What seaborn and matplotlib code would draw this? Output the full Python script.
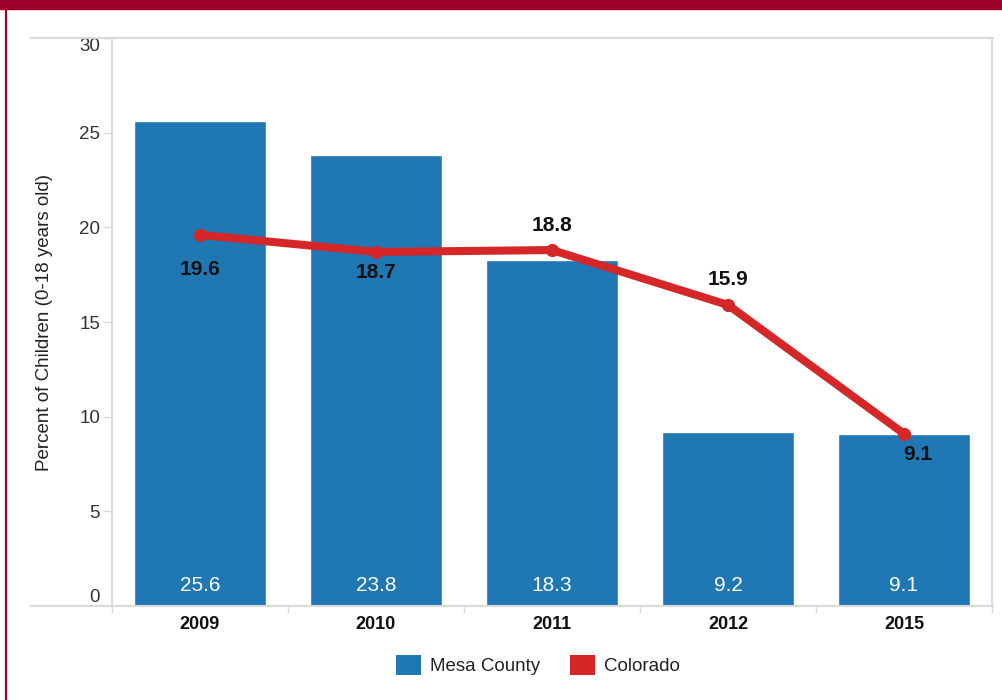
import numpy as np
import pandas as pd
import matplotlib
matplotlib.use("Agg")
import matplotlib.pyplot as plt
from matplotlib.lines import Line2D
from matplotlib.patches import Rectangle, Patch
import seaborn as sns

# Data
years = ["2009", "2010", "2011", "2012", "2015"]
mesa_county = [25.6, 23.8, 18.3, 9.2, 9.1]
colorado = [19.6, 18.7, 18.8, 15.9, 9.1]
y_ticks = [0, 5, 10, 15, 20, 25, 30]

# Offset (points) of each Colorado value label from its marker
colorado_label_offsets = [(0, -25), (0, -15), (0, 18), (0, 18), (10, -15)]

BLUE = "#1f77b4"
RED = "#d62728"
GRID = "#d9d9d9"
BAND = "#9b0029"

sns.set_theme(style="white")
plt.rcParams["font.family"] = ["Liberation Sans", "DejaVu Sans"]

W, H = 1003, 700
fig = plt.figure(figsize=(W / 100, H / 100), dpi=100)
fig.patch.set_facecolor("white")

# axes box in pixel coordinates
x0, x1, ytop, ybot = 112, 992, 38, 606
ax = fig.add_axes([x0 / W, 1 - ybot / H, (x1 - x0) / W, (ybot - ytop) / H])

df = pd.DataFrame({"year": years, "mesa": mesa_county, "co": colorado})

sns.barplot(data=df, x="year", y="mesa", color=BLUE, saturation=1,
            width=0.75, ax=ax, zorder=2)

sns.lineplot(x=np.arange(len(years)), y=colorado, color=RED, linewidth=5.8,
             marker="o", markersize=9.5, markeredgewidth=0, ax=ax, zorder=4,
             solid_capstyle="round")

# bar value labels
for i, v in enumerate(mesa_county):
    ax.annotate(f"{v:.1f}", (i, 0), xytext=(0, 15), textcoords="offset points",
                ha="center", va="center", color="white", fontsize=15)

# line value labels
for i, (v, off) in enumerate(zip(colorado, colorado_label_offsets)):
    ax.annotate(f"{v:.1f}", (i, v), xytext=off, textcoords="offset points",
                ha="center", va="center", color="#111111", fontsize=15,
                fontweight="bold", zorder=5)

ax.set_xlim(-0.5, len(years) - 0.5)
ax.set_ylim(0, 30)
ax.set_yticks(y_ticks)
ax.set_yticklabels([str(t) for t in y_ticks])
ax.tick_params(axis="y", length=6.5, width=1, color=GRID, labelsize=13.5,
               labelcolor="#333333", pad=2, left=True)
for lbl, t in zip(ax.get_yticklabels(), y_ticks):
    if t == 0:
        lbl.set_verticalalignment("bottom")
    elif t == 30:
        lbl.set_verticalalignment("top")

# minor ticks mark the category boundaries on the x axis
ax.set_xticks(np.arange(-0.5, len(years)), minor=True)
ax.tick_params(axis="x", which="minor", length=5, width=1, color=GRID, bottom=True)
ax.tick_params(axis="x", which="major", length=0, labelsize=13, pad=7,
               labelcolor="#111111")
for lbl in ax.get_xticklabels():
    lbl.set_fontweight("bold")

ax.set_xlabel("")
ax.set_ylabel("Percent of Children (0-18 years old)", fontsize=13.5,
              color="#222222")
ax.yaxis.set_label_coords((53 - x0) / (x1 - x0), 0.5)

for side in ["top", "bottom"]:
    ax.spines[side].set_visible(False)
for side in ["left", "right"]:
    ax.spines[side].set_visible(True)
    ax.spines[side].set_color(GRID)
    ax.spines[side].set_linewidth(1.4)

# top and bottom rules running out past the value axis
for ypx in (ytop, ybot):
    fig.add_artist(Line2D([31 / W, 993 / W], [1 - ypx / H, 1 - ypx / H],
                          color=GRID, linewidth=1.5, zorder=1))

# page frame: red band across the top and a thin red rule on the left
fig.add_artist(Rectangle((0, 1 - 9 / H), 1, 9 / H, color=BAND,
                         transform=fig.transFigure, zorder=10))
fig.add_artist(Line2D([6 / W, 6 / W], [0, 1 - 9 / H], color=BAND,
                      linewidth=1.6, zorder=10))

handles = [Patch(facecolor=BLUE, edgecolor="none", label="Mesa County"),
           Patch(facecolor=RED, edgecolor="none", label="Colorado")]
fig.legend(handles=handles, loc="center", bbox_to_anchor=(538 / W, 1 - 665 / H),
           ncol=2, frameon=False, fontsize=13.5, handlelength=1.3,
           handleheight=1.3, handletextpad=0.5, columnspacing=1.6,
           labelcolor="#222222")

fig.savefig("out.png", dpi=100, facecolor="white")
